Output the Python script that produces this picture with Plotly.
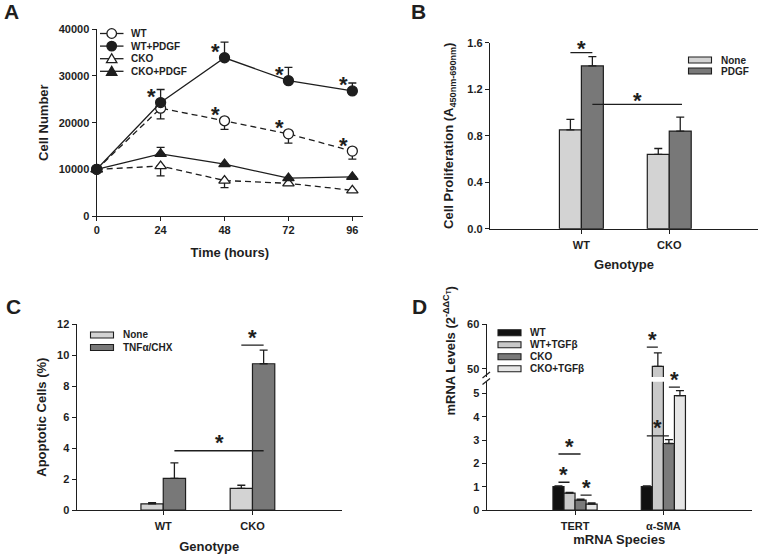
import plotly.graph_objects as go

# ─── Data ─────────────────────────────────────────────────────────────────────

# A: cell number over time
hours        = [0, 24, 48, 72, 96]
wt           = [10000, 23100, 20400, 17600, 13900]
wt_err       = [0, 2300, 1850, 2000, 1700]          # drawn downward
wt_pdgf      = [10000, 24300, 33900, 29000, 26800]
wt_pdgf_err  = [0, 2800, 3350, 2850, 1700]          # drawn upward
cko          = [10000, 10700, 7600, 7000, 5500]
cko_err      = [0, 2100, 1500, 400, 0]              # drawn downward
cko_pdgf     = [10000, 13300, 11100, 8100, 8400]
cko_pdgf_err = [0, 1400, 0, 0, 0]                   # drawn upward
star_wt_pdgf = [24, 48, 72, 96]
star_wt      = [48, 72, 96]

# B: proliferation
genotype     = ["WT", "CKO"]
b_none       = [0.85, 0.64]
b_none_err   = [0.09, 0.05]
b_pdgf       = [1.40, 0.84]
b_pdgf_err   = [0.08, 0.12]

# C: apoptosis
c_none       = [0.40, 1.40]
c_none_err   = [0.07, 0.20]
c_tnf        = [2.05, 9.45]
c_tnf_err    = [1.00, 0.88]

# D: mRNA levels (broken axis)
species      = ["TERT", "α-SMA"]
d_wt         = [1.00, 1.00]
d_wt_err     = [0.03, 0.03]
d_wt_tgf     = [0.72, 50.6]
d_wt_tgf_err = [0.03, 3.0]
d_cko        = [0.42, 2.85]
d_cko_err    = [0.04, 0.17]
d_ckt        = [0.25, 4.90]
d_ckt_err    = [0.05, 0.22]


# ─── Style ────────────────────────────────────────────────────────────────────

W, H  = 774, 558
FONT  = "Liberation Sans, Arial, sans-serif"
INK   = "#1e1e1e"
LIGHT = "#d3d3d3"
DARK  = "#787878"
D_COLORS = ["#111111", "#c9c9c9", "#7a7a7a", "#e6e6e6"]
STAR  = dict(size=22, weight="bold", color=INK)


def px(x):
    return x / W


def py(y):
    return 1 - y / H


AXIS = dict(
    showline=True, linecolor=INK, linewidth=1.3,
    ticks="outside", ticklen=4, tickwidth=1.2, tickcolor=INK,
    showgrid=False, zeroline=False, automargin=False,
    tickfont=dict(size=11, weight="bold", color=INK),
    title_font=dict(size=13, weight="bold", color=INK),
)

fig = go.Figure()


# ─── Panel A ──────────────────────────────────────────────────────────────────

def line_trace(y, up, down, symbol, fill, dash):
    return go.Scatter(
        x=hours, y=y, mode="lines+markers",
        line=dict(color=INK, width=1.3, dash=dash),
        marker=dict(symbol=symbol, size=10, color=fill,
                    line=dict(color=INK, width=1.3)),
        error_y=dict(type="data", symmetric=False, array=up, arrayminus=down,
                     color=INK, thickness=1.3, width=4),
        cliponaxis=False, showlegend=False, xaxis="x", yaxis="y",
    )

zeros = [0] * len(hours)
fig.add_trace(line_trace(cko, zeros, cko_err, "triangle-up", "white", "6px,4px"))
fig.add_trace(line_trace(cko_pdgf, cko_pdgf_err, zeros, "triangle-up", INK, "solid"))
fig.add_trace(line_trace(wt, zeros, wt_err, "circle", "white", "6px,4px"))
fig.add_trace(line_trace(wt_pdgf, wt_pdgf_err, zeros, "circle", INK, "solid"))

annotations = []
for series, stars in ((wt_pdgf, star_wt_pdgf), (wt, star_wt)):
    for t in stars:
        annotations.append(dict(
            x=t - 3.5, y=series[hours.index(t)], xref="x", yref="y",
            text="*", showarrow=False, yanchor="middle", yshift=6, font=STAR,
        ))


# ─── Bar helpers ──────────────────────────────────────────────────────────────

def bar_trace(x, y, err, color, xa, ya, group):
    return go.Bar(
        x=x, y=y, xaxis=xa, yaxis=ya, offsetgroup=group,
        marker=dict(color=color, line=dict(color=INK, width=1.2)),
        error_y=dict(type="data", symmetric=False, array=err,
                     arrayminus=[0] * len(err), color=INK, thickness=1.3, width=4),
        showlegend=False,
    )

fig.add_trace(bar_trace(genotype, b_none, b_none_err, LIGHT, "x2", "y2", "b1"))
fig.add_trace(bar_trace(genotype, b_pdgf, b_pdgf_err, DARK, "x2", "y2", "b2"))

fig.add_trace(bar_trace(genotype, c_none, c_none_err, LIGHT, "x3", "y3", "c1"))
fig.add_trace(bar_trace(genotype, c_tnf, c_tnf_err, DARK, "x3", "y3", "c2"))

d_series = [(d_wt, d_wt_err), (d_wt_tgf, d_wt_tgf_err), (d_cko, d_cko_err), (d_ckt, d_ckt_err)]
for ya in ("y4", "y5"):
    for i, (vals, errs) in enumerate(d_series):
        fig.add_trace(bar_trace(species, vals, errs, D_COLORS[i], "x4", ya, f"d{i}"))


# ─── Significance bars ────────────────────────────────────────────────────────

# (x axis, y axis, x0, x1, y, asterisk lift in px)
sig = [
    ("x2", "y2", -0.125, 0.125, 1.514, 4),
    ("x2", "y2", 0.125, 1.145, 1.07, 4),
    ("x3", "y3", 0.875, 1.125, 10.66, 8),
    ("x3", "y3", 0.125, 1.125, 3.83, 8),
    ("x4", "y4", -0.1875, -0.0625, 1.19, 8),
    ("x4", "y4", 0.0625, 0.1875, 0.64, 8),
    ("x4", "y4", -0.1875, 0.0625, 2.40, 8),
    ("x4", "y5", 0.8125, 0.9375, 54.9, 8),
    ("x4", "y4", 1.0625, 1.1875, 5.27, 8),
    ("x4", "y4", 0.8125, 1.0625, 3.18, 8),
]
shapes = []
for xa, ya, x0, x1, y, lift in sig:
    shapes.append(dict(type="line", xref=xa, yref=ya, x0=x0, x1=x1, y0=y, y1=y,
                       line=dict(color=INK, width=1.3)))
    annotations.append(dict(x=(x0 + x1) / 2, y=y, xref=xa, yref=ya, text="*",
                            showarrow=False, yanchor="middle", yshift=lift,
                            font=STAR))


# ─── Legends (drawn by hand to get the tight row spacing) ─────────────────────

def legend_text(x, y, text):
    annotations.append(dict(x=px(x), y=py(y), xref="paper", yref="paper",
                            text=text, showarrow=False, xanchor="left",
                            yanchor="middle",
                            font=dict(size=10, weight="bold", color=INK)))

def legend_box(x, y, color, text):
    shapes.append(dict(type="rect", xref="paper", yref="paper",
                       x0=px(x), x1=px(x + 23), y0=py(y - 3), y1=py(y + 3),
                       fillcolor=color, line=dict(color=INK, width=1.1)))
    legend_text(x + 30, y, text)

# A: line + marker keys
a_keys = [("WT", "circle", "white"), ("WT+PDGF", "circle", INK),
          ("CKO", "tri", "white"), ("CKO+PDGF", "tri", INK)]
for i, (name, sym, fill) in enumerate(a_keys):
    y = 33.5 + i * 12.6
    shapes.append(dict(type="line", xref="paper", yref="paper",
                       x0=px(100), x1=px(123.5), y0=py(y), y1=py(y),
                       line=dict(color=INK, width=1.3)))
    if sym == "circle":
        shapes.append(dict(type="circle", xref="paper", yref="paper",
                           x0=px(106.9), x1=px(116.5), y0=py(y - 4.8), y1=py(y + 4.8),
                           fillcolor=fill, line=dict(color=INK, width=1.3)))
    else:
        path = (f"M {px(106.5)},{py(y + 4)} L {px(116.9)},{py(y + 4)} "
                f"L {px(111.7)},{py(y - 5)} Z")
        shapes.append(dict(type="path", xref="paper", yref="paper", path=path,
                           fillcolor=fill, line=dict(color=INK, width=1.3)))
    legend_text(129, y, name)

legend_box(688.5, 60, LIGHT, "None")
legend_box(688.5, 71, DARK, "PDGF")

legend_box(90.5, 335, LIGHT, "None")
legend_box(90.5, 347.5, DARK, "TNFα/CHX")

for i, name in enumerate(["WT", "WT+TGFβ", "CKO", "CKO+TGFβ"]):
    legend_box(498, 332.7 + i * 12, D_COLORS[i], name)

# broken-axis marks on panel D
for y in (378, 384.5):
    shapes.append(dict(type="line", xref="paper", yref="paper",
                       x0=px(482.5), x1=px(490), y0=py(y), y1=py(y - 6),
                       line=dict(color=INK, width=1.2)))

# panel letters
for letter, x, y in (("A", 2, 12), ("B", 409, 12), ("C", 4, 306), ("D", 410, 306)):
    annotations.append(dict(x=px(x), y=py(y), xref="paper", yref="paper",
                            text=letter, showarrow=False, xanchor="left",
                            yanchor="middle",
                            font=dict(size=21, weight="bold", color=INK)))

# D y title spans both halves of the broken axis
annotations.append(dict(x=px(449), y=py(418), xref="paper", yref="paper",
                        text="mRNA Levels (2<sup>-ΔΔC<sub>T</sub></sup>)",
                        textangle=-90, showarrow=False,
                        font=dict(size=13, weight="bold", color=INK)))


# ─── Layout ───────────────────────────────────────────────────────────────────

fig.update_layout(
    width=W, height=H,
    margin=dict(l=0, r=0, t=0, b=0),
    paper_bgcolor="white", plot_bgcolor="white",
    font=dict(family=FONT, color=INK),
    barmode="group", bargap=0.5, bargroupgap=0,
    showlegend=False,
    xaxis=dict(AXIS, domain=[px(96.7), px(363)], range=[0, 100],
               tickvals=hours, anchor="y",
               title=dict(text="Time (hours)", standoff=12)),
    yaxis=dict(AXIS, domain=[py(216), py(29.3)], range=[0, 40000],
               tickvals=[0, 10000, 20000, 30000, 40000], tickformat="d",
               anchor="x", title=dict(text="Cell Number", standoff=7)),
    xaxis2=dict(AXIS, domain=[px(490), px(758)], type="category",
                range=[-1.04, 2.01], anchor="y2", ticklabelstandoff=2,
                title=dict(text="Genotype", standoff=9)),
    yaxis2=dict(AXIS, domain=[py(228.7), py(42.7)], range=[0, 1.6],
                tickvals=[0, 0.4, 0.8, 1.2, 1.6], tickformat=".1f", anchor="x2",
                title=dict(text="Cell Proliferation (A<sub>450nm-690nm</sub>)",
                           standoff=10)),
    xaxis3=dict(AXIS, domain=[px(76.7), px(341.7)], type="category",
                range=[-0.97, 2.0], anchor="y3", ticklabelstandoff=2,
                title=dict(text="Genotype", standoff=10)),
    yaxis3=dict(AXIS, domain=[py(510), py(324.3)], range=[0, 12],
                tickvals=[0, 2, 4, 6, 8, 10, 12], anchor="x3",
                title=dict(text="Apoptotic Cells (%)", standoff=7)),
    xaxis4=dict(AXIS, domain=[px(486.7), px(751.7)], type="category",
                range=[-1.0, 2.0], anchor="y4", ticklabelstandoff=2,
                title=dict(text="mRNA Species", standoff=0)),
    yaxis4=dict(AXIS, domain=[py(510), py(381.7)], range=[0, 5.5],
                tickvals=[0, 1, 2, 3, 4, 5], anchor="x4"),
    yaxis5=dict(AXIS, domain=[py(377), py(324.3)], range=[48.2, 60],
                tickvals=[50, 60], anchor="x4"),
    shapes=shapes,
    annotations=annotations,
)

# the page's default 8px body margin would push the figure off the window
fig.write_html("out.html", config={"displayModeBar": False},
               post_script="document.body.style.margin = '0';")
